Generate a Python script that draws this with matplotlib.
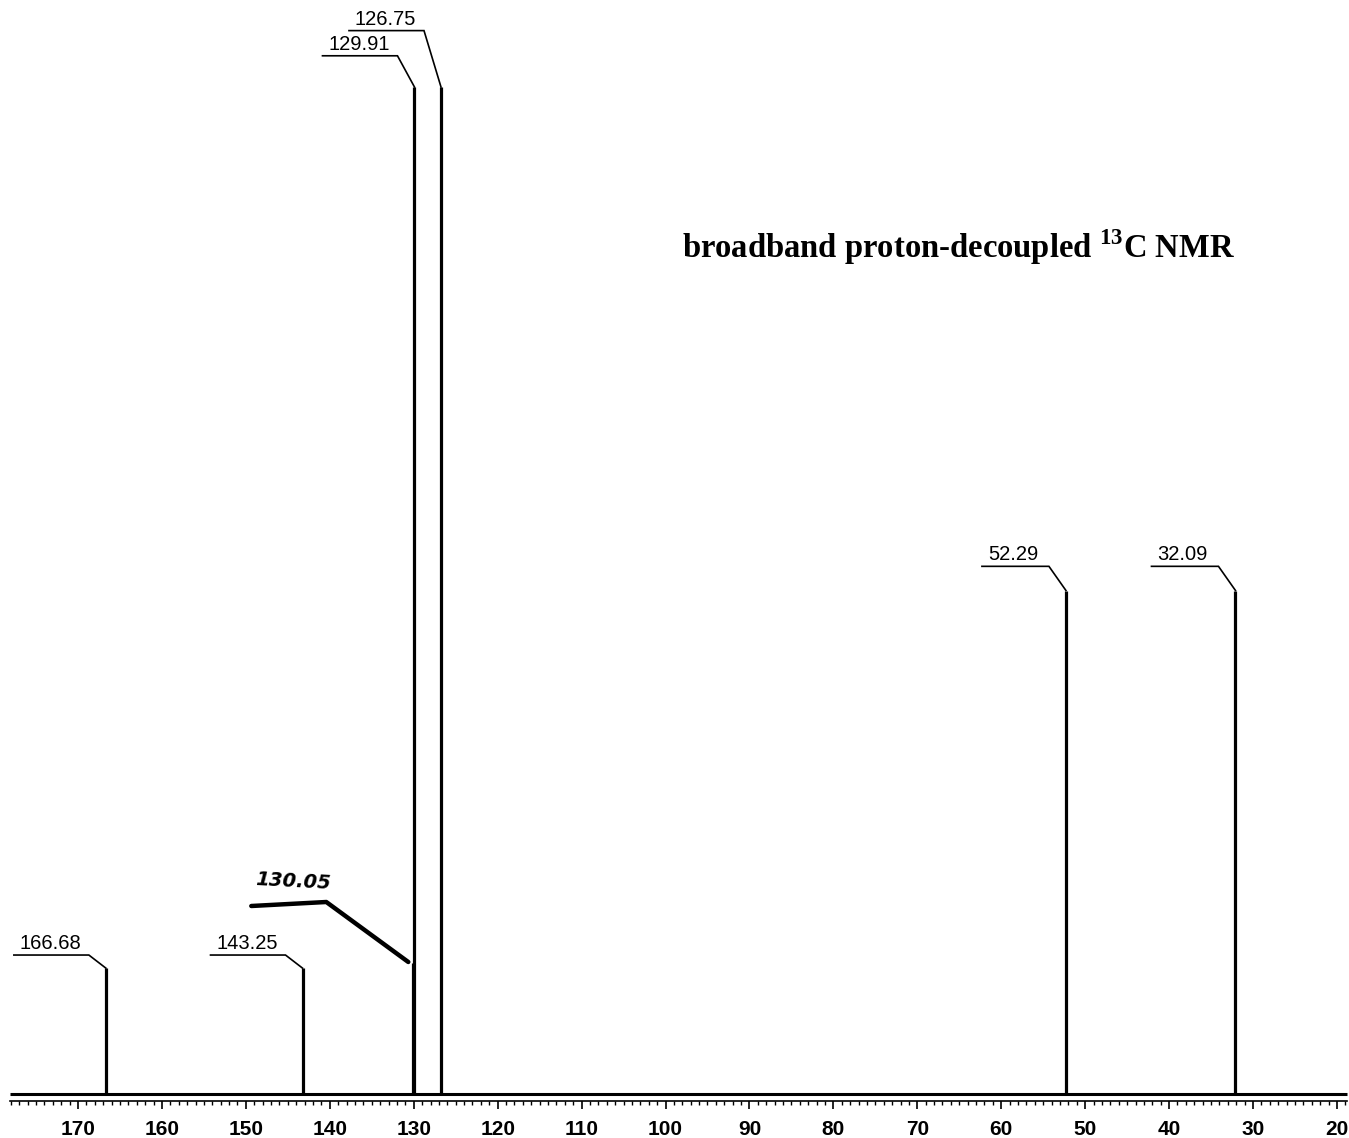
import matplotlib
matplotlib.use("Agg")
import matplotlib.pyplot as plt
import numpy as np

# ---- data ----
shifts = [166.68, 143.25, 130.05, 129.91, 126.75, 52.29, 32.09]
intensities = [12.5, 12.5, 13.0, 100.0, 100.0, 50.0, 50.0]
printed = [True, True, False, True, True, True, True]
label_levels = [13.8, 13.8, None, 103.1, 105.6, 52.4, 52.4]   # height of label shelf
handwritten_shift = 130.05
handwritten_text = "130.05"
tick_major = list(range(170, 19, -10))
title = r"broadband proton-decoupled $^{\mathbf{13}}$C NMR"

# ---- layout ----
W, H = 1349, 1138
PX_PER_PPM = 8.393
PX_PER_UNIT = 10.07
X_LEFT = 170 + 78 / PX_PER_PPM
X_RIGHT = 170 - (W - 78) / PX_PER_PPM
Y_BOTTOM = -(H - 1094) / PX_PER_UNIT
Y_TOP = 1094 / PX_PER_UNIT

def dppm(px):
    return px / PX_PER_PPM

def dunit(px):
    return px / PX_PER_UNIT

plt.rcParams['mathtext.fontset'] = 'custom'
plt.rcParams['mathtext.bf'] = 'Liberation Serif:bold'
plt.rcParams['mathtext.rm'] = 'Liberation Serif:bold'

fig = plt.figure(figsize=(W / 100, H / 100), dpi=100)
ax = fig.add_axes([0, 0, 1, 1])
ax.set_xlim(X_LEFT, X_RIGHT)
ax.set_ylim(Y_BOTTOM, Y_TOP)

# baseline
ax.plot([X_LEFT - dppm(10), X_RIGHT + dppm(2)], [0, 0], color='black', lw=2.2, solid_capstyle='butt')

# peaks
ax.vlines(shifts, 0, intensities, color='black', lw=2.3)

# printed labels with leaders
for s, h, p, lvl in zip(shifts, intensities, printed, label_levels):
    if not p:
        continue
    txt = f"{s:.2f}"
    length = 75 if len(txt) >= 6 else 67
    xc = s + dppm(17)
    xs = xc + dppm(length)
    ax.plot([xs, xc, s], [lvl, lvl, h], color='black', lw=1.2, solid_joinstyle='miter')
    ax.text(xs - dppm(6), lvl + dunit(2), txt, ha='left', va='bottom',
            fontsize=14.5, family='Liberation Sans', fontweight='medium', color='black')

# handwritten annotation
hx_end = handwritten_shift + dppm(5)
hy_end = dunit(1094 - 962)
hx_corner = hx_end + dppm(82)
hy_corner = dunit(1094 - 902)
hx_start = hx_corner + dppm(75)
hy_start = dunit(1094 - 906)
ax.plot([hx_start, hx_corner, hx_end], [hy_start, hy_corner, hy_end],
        color='black', lw=3.2, solid_capstyle='round', solid_joinstyle='round')
ax.text(hx_start - dppm(4), hy_corner + dunit(9), handwritten_text, ha='left', va='bottom',
        fontsize=14, fontweight='bold', style='italic', family='DejaVu Sans', rotation=-3)

# title
ax.text(170 - dppm(682 - 78), dunit(1094 - 258), title, ha='left', va='baseline',
        fontsize=23.5, fontweight='bold', family='Liberation Serif')

# scale axis
for side in ['top', 'left', 'right']:
    ax.spines[side].set_visible(False)
ax.spines['bottom'].set_position(('data', -dunit(7)))
ax.spines['bottom'].set_bounds(170 + dppm(68), 170 - dppm(1347 - 78))
ax.spines['bottom'].set_linewidth(1.2)
ax.set_xticks(tick_major)
ax.set_xticks(np.arange(178, 18, -1), minor=True)
ax.tick_params(axis='x', which='major', direction='out', length=5.5, width=1.2, pad=8,
               labelsize=15)
ax.tick_params(axis='x', which='minor', direction='out', length=3, width=1.0)
for lab in ax.get_xticklabels():
    lab.set_family('Liberation Sans')
    lab.set_fontweight('bold')
ax.set_yticks([])

fig.savefig("out.png", dpi=100)
